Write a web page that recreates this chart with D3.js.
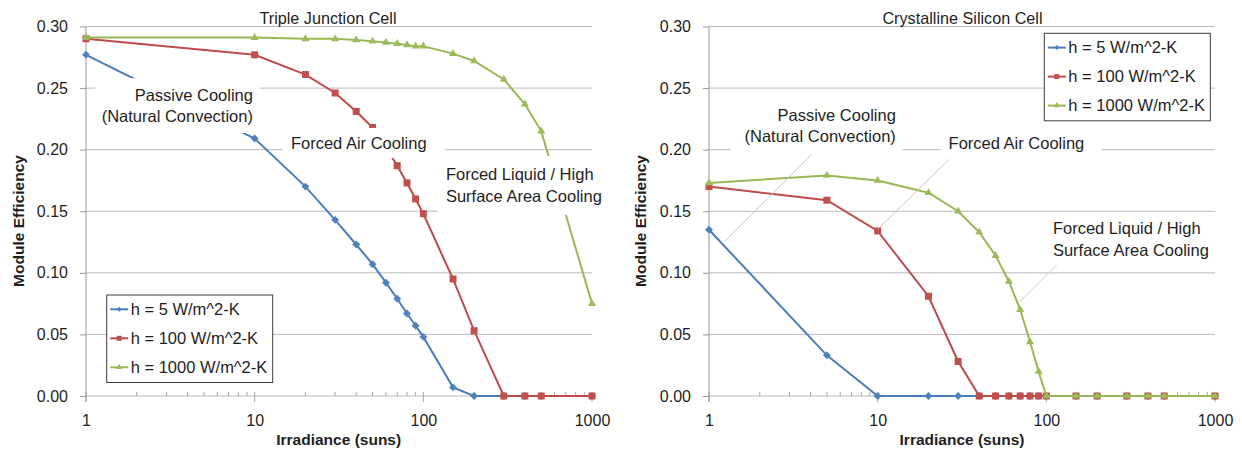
<!DOCTYPE html>
<html>
<head>
<meta charset="utf-8">
<script src="https://cdn.jsdelivr.net/npm/d3@7"></script>
<style>
  body { margin: 0; background: #fff; }
  svg text { font-family: "Liberation Sans", Arial, sans-serif; fill: #1e1e1e; }
</style>
</head>
<body>
<div id="chart"></div>
<script>
// legend names, one per heat transfer coefficient
const seriesNames = ["h = 5 W/m^2-K", "h = 100 W/m^2-K", "h = 1000 W/m^2-K"];

// axis ticks
const xTickValues = [1, 10, 100, 1000];
const yTickValues = [0, 0.05, 0.10, 0.15, 0.20, 0.25, 0.30];

// Triple Junction Cell (left panel)
const tjIrradiance = [1, 10, 20, 30, 40, 50, 60, 70, 80, 90, 100, 150, 200, 300, 400, 500, 1000];
const tjH5    = [0.277, 0.209, 0.170, 0.143, 0.123, 0.107, 0.092, 0.079, 0.067, 0.057, 0.048, 0.007, 0.000, 0.000, 0.000, 0.000, 0.000];
const tjH100  = [0.290, 0.277, 0.261, 0.246, 0.231, 0.218, 0.202, 0.187, 0.173, 0.160, 0.148, 0.095, 0.053, 0.000, 0.000, 0.000, 0.000];
const tjH1000 = [0.291, 0.291, 0.290, 0.290, 0.289, 0.288, 0.287, 0.286, 0.285, 0.284, 0.284, 0.278, 0.272, 0.257, 0.237, 0.215, 0.075];

// Crystalline Silicon Cell (right panel)
const siIrradiance = [1, 5, 10, 20, 30, 40, 50, 60, 70, 80, 90, 100, 150, 200, 300, 400, 500, 1000];
const siH5    = [0.135, 0.033, 0.000, 0.000, 0.000, 0.000, 0.000, 0.000, 0.000, 0.000, 0.000, 0.000, 0.000, 0.000, 0.000, 0.000, 0.000, 0.000];
const siH100  = [0.170, 0.159, 0.134, 0.081, 0.028, 0.000, 0.000, 0.000, 0.000, 0.000, 0.000, 0.000, 0.000, 0.000, 0.000, 0.000, 0.000, 0.000];
const siH1000 = [0.173, 0.179, 0.175, 0.165, 0.150, 0.133, 0.114, 0.093, 0.070, 0.044, 0.020, 0.000, 0.000, 0.000, 0.000, 0.000, 0.000, 0.000];

// excel 2007 style colours: blue, red, green
const lineColors = ["#4a7ebb", "#be4b48", "#98b954"];
const markerColors = ["#4f81bd", "#c0504d", "#9bbb59"];
const symbols = [d3.symbolDiamond2, d3.symbolSquare, d3.symbolTriangle];
const markerSizes = [40, 49, 28];
const legendMarkerSizes = [16, 25, 16];

var width = 1242, height = 451;

var svg = d3.select("#chart").append("svg")
    .attr("width", width)
    .attr("height", height);

//draws one panel (grid, axes, series, callouts, legend)
function drawPanel(p) {
    var x = d3.scaleLog().domain([1, 1000]).range([p.left, p.left + 506]);
    var y = d3.scaleLinear().domain([0, 0.3]).range([396, 26.5]);
    var g = svg.append("g");

    // horizontal gridlines
    g.selectAll(".grid")
        .data(yTickValues)
        .enter().append("line")
        .attr("x1", x(1)).attr("x2", x(1000))
        .attr("y1", d => y(d)).attr("y2", d => y(d))
        .style("stroke", "#b9b9b9")
        .style("stroke-width", 1);

    // minor ticks along the bottom (inside), majors crossing
    var minor = x.ticks().filter(d => xTickValues.indexOf(d) < 0);
    g.selectAll(".minor")
        .data(minor)
        .enter().append("line")
        .attr("x1", d => x(d)).attr("x2", d => x(d))
        .attr("y1", y(0) - 4).attr("y2", y(0))
        .style("stroke", "#a6a6a6");
    g.selectAll(".major")
        .data(xTickValues)
        .enter().append("line")
        .attr("x1", d => x(d)).attr("x2", d => x(d))
        .attr("y1", y(0) - 4).attr("y2", y(0) + 6)
        .style("stroke", "#a6a6a6");

    // left axis
    var yAxis = g.append("g")
        .attr("transform", "translate(" + x(1) + ",0)")
        .call(d3.axisLeft(y).tickValues(yTickValues).tickFormat(d3.format(".2f"))
            .tickSize(6).tickSizeOuter(0).tickPadding(12));
    yAxis.select(".domain").style("stroke", "#999").attr("d", "M0," + (y(0) + 6) + "V" + y(0.3));
    yAxis.selectAll(".tick line").style("stroke", "#999");
    yAxis.selectAll("text").style("font-size", "16px").style("font-family", null).attr("fill", null);
    yAxis.attr("font-family", null);

    // bottom axis labels only
    var xAxis = g.append("g")
        .attr("transform", "translate(0," + y(0) + ")")
        .call(d3.axisBottom(x).tickValues(xTickValues).tickFormat(d3.format("d"))
            .tickSize(0).tickPadding(18.4));
    xAxis.select(".domain").remove();
    xAxis.selectAll("text").style("font-size", "16px").attr("fill", null);
    xAxis.attr("font-family", null);

    // series lines + markers, drawn in order so green ends up on top
    var line = d3.line().x(d => x(d[0])).y(d => y(d[1]));
    p.series.forEach(function (vals, i) {
        var pts = p.irradiance.map((v, j) => [v, vals[j]]);
        g.append("path")
            .datum(pts)
            .attr("d", line)
            .style("fill", "none")
            .style("stroke", lineColors[i])
            .style("stroke-width", 2);
        g.selectAll(".m" + i)
            .data(pts)
            .enter().append("path")
            .attr("transform", d => "translate(" + x(d[0]) + "," + y(d[1]) + ")")
            .attr("d", d3.symbol().type(symbols[i]).size(markerSizes[i]))
            .style("fill", markerColors[i]);
    });

    // callouts: leader lines, then white boxes that hide whatever is beneath
    p.notes.forEach(function (n) {
        if (n.leader) {
            g.append("line")
                .attr("x1", x(n.leader[0][0])).attr("y1", y(n.leader[0][1]))
                .attr("x2", x(n.leader[1][0])).attr("y2", y(n.leader[1][1]))
                .style("stroke", n.leaderColor)
                .style("stroke-width", 1);
        }
    });
    p.notes.forEach(function (n) {
        var bx0 = x(n.box[0]), bx1 = x(n.box[1]), by0 = y(n.box[2]), by1 = y(n.box[3]);
        g.append("rect")
            .attr("x", bx0).attr("y", by0)
            .attr("width", bx1 - bx0).attr("height", by1 - by0)
            .style("fill", "#fff");
        var cy = (by0 + by1) / 2;
        n.lines.forEach(function (t, k) {
            g.append("text")
                .attr("x", n.align == "end" ? bx1 - 7 : bx0 + 8)
                .attr("y", cy + (k - (n.lines.length - 1) / 2) * 21.5)
                .attr("dy", "0.35em")
                .attr("text-anchor", n.align)
                .style("font-size", "16.5px")
                .text(t);
        });
    });

    // title
    g.append("text")
        .attr("x", p.titleX).attr("y", 18.3)
        .attr("dy", "0.35em")
        .attr("text-anchor", "middle")
        .style("font-size", "16.2px")
        .text(p.title);

    // axis titles
    g.append("text")
        .attr("x", p.xTitleX).attr("y", 440)
        .attr("dy", "0.35em")
        .attr("text-anchor", "middle")
        .style("font-size", "15.5px")
        .style("font-weight", "bold")
        .text("Irradiance (suns)");
    g.append("text")
        .attr("transform", "translate(" + p.yTitleX + ",221) rotate(-90)")
        .attr("dy", "0.35em")
        .attr("text-anchor", "middle")
        .style("font-size", "15.5px")
        .style("font-weight", "bold")
        .text("Module Efficiency");

    // legend
    var lg = g.append("g").attr("transform", "translate(" + p.legend[0] + "," + p.legend[1] + ")");
    lg.append("rect")
        .attr("width", 166).attr("height", 87.5)
        .style("fill", "#fff")
        .style("stroke", "#3a3a3a")
        .style("stroke-width", 1);
    seriesNames.forEach(function (name, i) {
        var ly = 14.3 + i * 29;
        lg.append("line")
            .attr("x1", 3.5).attr("x2", 21.5)
            .attr("y1", ly).attr("y2", ly)
            .style("stroke", lineColors[i])
            .style("stroke-width", 2);
        lg.append("path")
            .attr("transform", "translate(12.5," + ly + ")")
            .attr("d", d3.symbol().type(symbols[i]).size(legendMarkerSizes[i]))
            .style("fill", markerColors[i]);
        lg.append("text")
            .attr("x", 24).attr("y", ly)
            .attr("dy", "0.35em")
            .style("font-size", "16.5px")
            .text(name);
    });
}

drawPanel({
    left: 86,
    irradiance: tjIrradiance,
    series: [tjH5, tjH100, tjH1000],
    title: "Triple Junction Cell",
    titleX: 328,
    xTitleX: 338.7,
    yTitleX: 18.5,
    legend: [106.7, 295],
    notes: [
        { box: [1.13, 10.75, 0.258, 0.2135], align: "end",
          lines: ["Passive Cooling", "(Natural Convection)"] },
        { box: [14.7, 134, 0.2176, 0.1932], align: "start",
          lines: ["Forced Air Cooling"] },
        { box: [122, 1114, 0.1949, 0.1470], align: "start",
          lines: ["Forced Liquid / High", "Surface Area Cooling"] }
    ]
});

drawPanel({
    left: 709,
    irradiance: siIrradiance,
    series: [siH5, siH100, siH1000],
    title: "Crystalline Silicon Cell",
    titleX: 962.5,
    xTitleX: 962,
    yTitleX: 641,
    legend: [1044.3, 33.3],
    notes: [
        { box: [1.35, 14.1, 0.2419, 0.1973], align: "end",
          lines: ["Passive Cooling", "(Natural Convection)"],
          leader: [[4.08, 0.1965], [1.244, 0.1258]], leaderColor: "#b9cde5" },
        { box: [23.6, 212.8, 0.2168, 0.1940], align: "start",
          lines: ["Forced Air Cooling"],
          leader: [[26.6, 0.1922], [10.04, 0.1356]], leaderColor: "#e6b9b8" },
        { box: [98.1, 958.6, 0.1470, 0.1072], align: "start",
          lines: ["Forced Liquid / High", "Surface Area Cooling"],
          leader: [[115.1, 0.1064], [69.7, 0.0766]], leaderColor: "#c8c8c8" }
    ]
});
</script>
</body>
</html>
